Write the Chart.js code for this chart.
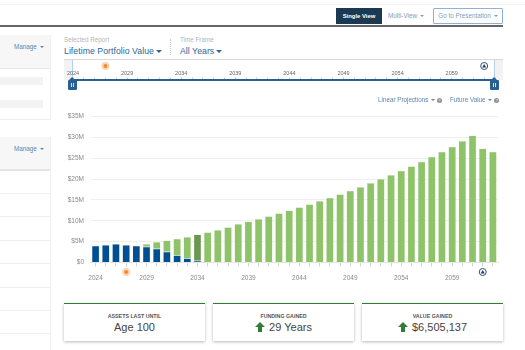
<!DOCTYPE html>
<html>
<head>
<meta charset="utf-8">
<script src="https://cdn.jsdelivr.net/npm/chart.js@4/dist/chart.umd.min.js"></script>
<style>
    html, body { margin: 0; padding: 0; background: #fff; }
    body { width: 525px; height: 350px; position: relative; overflow: hidden; font-family: "Liberation Sans", Arial, sans-serif; color: #444; }
    .abs { position: absolute; white-space: nowrap; }
    .caret { display: inline-block; width: 0; height: 0; border-left: 2px solid transparent; border-right: 2px solid transparent; border-top: 2px solid currentColor; vertical-align: middle; margin-left: 1px; }
    .link { color: #5b86ae; font-size: 6.3px; line-height: 10px; }
    .panel-head { left: 0; width: 50px; background: #f7f7f7; }
    .row-line { left: 0; width: 50px; height: 1px; background: #f0f0f0; }
    .stub { left: 0; width: 43px; height: 8px; background: #f3f3f3; }
    .label { color: #b5b5b5; font-size: 6.3px; line-height: 10px; }
    .picked { color: #2b6699; font-size: 8.7px; line-height: 13px; letter-spacing: 0.05px; }
    .picked .caret { border-left-width: 3.5px; border-right-width: 3.5px; border-top-width: 3.5px; margin-left: 2px; }
    .help { display: inline-block; width: 5px; height: 5px; border-radius: 50%; background: #8f8f8f; color: #fff; font-size: 4px; line-height: 5px; text-align: center; vertical-align: middle; }
    .handle { width: 9px; height: 10px; top: 80px; background: #2a5f94; border-radius: 1px; }
    .handle:before { content: ""; position: absolute; left: 1px; top: -3px; border-left: 3.5px solid transparent; border-right: 3.5px solid transparent; border-bottom: 3px solid #2a5f94; }
    .handle:after { content: ""; position: absolute; left: 3px; top: 3px; width: 1px; height: 4px; border-left: 1px solid #cfe0f0; border-right: 1px solid #cfe0f0; }
    .card { top: 303px; width: 141px; height: 37px; background: #fff; border-top: 1.5px solid #2e7d32; box-shadow: 0 1px 3px rgba(0,0,0,0.28); text-align: center; }
    .card .title { font-size: 5.3px; font-weight: bold; color: #555; margin-top: 9px; line-height: 7px; text-transform: uppercase; }
    .card .value { font-size: 11px; color: #444; line-height: 13px; margin-top: 1px; }
    .card svg { vertical-align: -1px; margin-right: 1px; }
</style>
</head>
<body>
    <!-- page chrome -->
    <div class="abs" style="left:0;top:4px;width:525px;height:1px;background:#f2f2f2"></div>
    <div class="abs" style="left:0;top:25px;width:503px;height:2px;background:#666"></div>
    <div class="abs" style="left:336px;top:8px;width:46px;height:16px;background:#1b3a52;color:#fff;font-size:5.9px;font-weight:bold;line-height:16px;text-align:center">Single View</div>
    <div class="abs link" style="left:388px;top:11px;color:#7f9cb8">Multi-View <span class="caret"></span></div>
    <div class="abs link" style="left:433px;top:8px;width:68px;height:14px;border:1px solid #8fb2d4;border-radius:1px;line-height:14px;text-align:center;color:#7f9cb8">Go to Presentation <span class="caret"></span></div>

    <!-- left panels -->
    <div class="abs panel-head" style="top:35px;height:33px"></div>
    <div class="abs" style="left:0;top:68px;width:50px;height:1px;background:#e8e8e8"></div>
    <div class="abs link" style="left:14px;top:42px">Manage <span class="caret"></span></div>
    <div class="abs stub" style="top:77px"></div>
    <div class="abs stub" style="top:100px"></div>
    <div class="abs" style="left:50px;top:35px;width:1px;height:85px;background:#f0f0f0"></div>
    <div class="abs" style="left:0;top:119px;width:50px;height:1px;background:#f0f0f0"></div>
    <div class="abs panel-head" style="top:137px;height:33px"></div>
    <div class="abs" style="left:0;top:169px;width:50px;height:2px;background:#e4e4e4"></div>
    <div class="abs link" style="left:14px;top:144px">Manage <span class="caret"></span></div>
    <div class="abs" style="left:50px;top:137px;width:1px;height:213px;background:#f0f0f0"></div>
    <div class="abs row-line" style="top:193px"></div>
    <div class="abs row-line" style="top:216px"></div>
    <div class="abs row-line" style="top:240px"></div>
    <div class="abs row-line" style="top:263px"></div>
    <div class="abs row-line" style="top:287px"></div>
    <div class="abs row-line" style="top:310px"></div>
    <div class="abs row-line" style="top:333px"></div>

    <!-- report pickers -->
    <div class="abs label" style="left:64px;top:35px">Selected Report</div>
    <div class="abs picked" style="left:64px;top:45px">Lifetime Portfolio Value<span class="caret"></span></div>
    <div class="abs" style="left:170px;top:39px;height:16px;border-left:1px dotted #ccc"></div>
    <div class="abs label" style="left:180px;top:35px">Time Frame</div>
    <div class="abs picked" style="left:180px;top:45px">All Years<span class="caret"></span></div>

    <!-- timeline slider -->
    <div class="abs" style="left:64px;top:59px;width:439px;height:1px;background:#d8d8d8"></div>
    <div class="abs" style="left:64px;top:60px;width:8px;height:20px;background:#f2f2f2"></div>
    <div class="abs" style="left:495px;top:60px;width:8px;height:20px;background:#f2f2f2"></div>
    <div class="abs" style="left:72px;top:60px;width:1px;height:20px;background:#b4d3ee"></div>
    <div class="abs" style="left:494px;top:60px;width:1px;height:20px;background:#b4d3ee"></div>
    <canvas id="slider-chart" class="abs" width="440" height="26" style="left:64px;top:59px"></canvas>
    <div class="abs handle" style="left:68px"></div>
    <div class="abs handle" style="left:490px"></div>

    <!-- projection links -->
    <div class="abs link" style="left:378px;top:95px">Linear Projections <span class="caret"></span> <span class="help">?</span></div>
    <div class="abs link" style="left:450px;top:95px">Future Value <span class="caret"></span> <span class="help">?</span></div>

    <canvas id="main-chart" class="abs" width="455" height="185" style="left:50px;top:105px"></canvas>

    <!-- summary cards -->
    <div class="abs card" style="left:64px">
        <div class="title">Assets Last Until</div>
        <div class="value">Age 100</div>
    </div>
    <div class="abs card" style="left:213px">
        <div class="title">Funding Gained</div>
        <div class="value"><svg width="10" height="10" viewBox="0 0 10 10"><path d="M5 0 L10 5 L7 5 L7 10 L3 10 L3 5 L0 5 Z" fill="#2e7d32"/></svg> 29 Years</div>
    </div>
    <div class="abs card" style="left:362px">
        <div class="title">Value Gained</div>
        <div class="value"><svg width="10" height="10" viewBox="0 0 10 10"><path d="M5 0 L10 5 L7 5 L7 10 L3 10 L3 5 L0 5 Z" fill="#2e7d32"/></svg> $6,505,137</div>
    </div>

<script>
    // values in $M
    const years = [2024, 2025, 2026, 2027, 2028, 2029, 2030, 2031, 2032, 2033,
        2034, 2035, 2036, 2037, 2038, 2039, 2040, 2041, 2042, 2043,
        2044, 2045, 2046, 2047, 2048, 2049, 2050, 2051, 2052, 2053,
        2054, 2055, 2056, 2057, 2058, 2059, 2060, 2061, 2062, 2063];
    const assets = [4.0, 4.2, 4.45, 4.2, 4.0, 3.8, 3.3, 2.6, 1.75, 1.0, 0.4];
    const funding = [null, null, null, null, null, 0.65, 1.6, 2.7, 3.95, 5.1,
        6.3, 7.25, 7.8, 8.45, 9.2, 9.8, 10.45, 11.1, 11.8, 12.45,
        13.25, 13.95, 14.75, 15.5, 16.35, 17.2, 18.1, 19.05, 20.0, 21.0,
        22.0, 23.1, 24.15, 25.35, 26.55, 27.75, 29.1, 30.45, 27.35, 26.55];
    const labeledYears = [2024, 2029, 2034, 2039, 2044, 2049, 2054, 2059];
    const yTickLabels = ['$0', '$5M', '$10M', '$15M', '$20M', '$25M', '$30M', '$35M'];
    const highlightYear = 2034;
    const todayYear = 2027;
    const endYear = 2062;

    const FONT = '"Liberation Sans", Arial, sans-serif';

    const yearLabel = (value, index) => labeledYears.includes(years[index]) ? String(years[index]) : '';

    // the two little markers sit on the year axis of both charts
    const markers = {
        id: 'markers',
        afterDraw(chart, args, opts) {
            const ctx = chart.ctx;
            const x = chart.scales.x;
            const today = x.getPixelForValue(years.indexOf(todayYear));
            const end = x.getPixelForValue(years.indexOf(endYear));
            ctx.save();
            ctx.beginPath();
            ctx.arc(today, opts.y, 4, 0, Math.PI * 2);
            ctx.fillStyle = '#fbd5b5';
            ctx.fill();
            ctx.beginPath();
            ctx.arc(today, opts.y, 2, 0, Math.PI * 2);
            ctx.fillStyle = '#f58a2c';
            ctx.fill();
            ctx.beginPath();
            ctx.arc(end, opts.y, 3.5, 0, Math.PI * 2);
            ctx.fillStyle = '#fff';
            ctx.fill();
            ctx.strokeStyle = '#33507a';
            ctx.lineWidth = 1;
            ctx.stroke();
            ctx.beginPath();
            ctx.moveTo(end, opts.y - 2);
            ctx.lineTo(end + 2, opts.y + 1.5);
            ctx.lineTo(end - 2, opts.y + 1.5);
            ctx.closePath();
            ctx.fillStyle = '#1b3a66';
            ctx.fill();
            ctx.restore();
        }
    };

    new Chart(document.getElementById('main-chart'), {
        type: 'bar',
        data: {
            labels: years,
            datasets: [
                {
                    label: 'Assets',
                    data: assets,
                    backgroundColor: '#004f92',
                    borderColor: '#cfdfec',
                    borderWidth: 0.5,
                    stack: 'value'
                },
                {
                    label: 'Funding',
                    data: funding,
                    backgroundColor: years.map(y => y === highlightYear ? '#6b9650' : '#8fc36a'),
                    borderColor: '#dcebd0',
                    borderWidth: 0.5,
                    stack: 'value'
                }
            ]
        },
        options: {
            responsive: false,
            animation: false,
            layout: { padding: { top: 11.5, right: 7, left: 0, bottom: 0 } },
            plugins: {
                legend: { display: false },
                tooltip: { enabled: false },
                markers: { y: 167 }
            },
            datasets: { bar: { barPercentage: 1, categoryPercentage: 0.75 } },
            scales: {
                x: {
                    stacked: true,
                    afterFit: scale => { scale.height = 27.5; },
                    border: { color: '#e6e6e6' },
                    grid: { offset: false, drawOnChartArea: false, color: '#d5d5d5', tickLength: 4 },
                    ticks: {
                        autoSkip: false,
                        maxRotation: 0,
                        padding: 8,
                        color: '#8a8a8a',
                        font: { family: FONT, size: 6.5 },
                        callback: yearLabel
                    }
                },
                y: {
                    stacked: true,
                    min: 0,
                    max: 35,
                    afterFit: scale => { scale.width = 40.5; },
                    border: { display: false },
                    grid: { color: '#efefef', drawTicks: false },
                    ticks: {
                        stepSize: 5,
                        padding: 6.5,
                        color: '#8a8a8a',
                        font: { family: FONT, size: 6.5 },
                        callback: (value, index) => yTickLabels[index]
                    }
                }
            }
        },
        plugins: [markers]
    });

    new Chart(document.getElementById('slider-chart'), {
        type: 'line',
        data: { labels: years, datasets: [] },
        options: {
            responsive: false,
            animation: false,
            layout: { padding: { left: 9, right: 9, top: 0, bottom: 0 } },
            plugins: {
                legend: { display: false },
                tooltip: { enabled: false },
                markers: { y: 7 }
            },
            scales: {
                x: {
                    position: 'top',
                    offset: false,
                    afterFit: scale => { scale.height = 20.5; },
                    border: { color: '#2a5f94', width: 2 },
                    grid: { drawOnChartArea: false, color: '#b9c6d3', tickLength: 2 },
                    ticks: {
                        autoSkip: false,
                        maxRotation: 0,
                        padding: 1,
                        color: '#666',
                        font: { family: FONT, size: 5.5 },
                        callback: yearLabel
                    }
                },
                y: { display: false }
            }
        },
        plugins: [markers]
    });
</script>
</body>
</html>
